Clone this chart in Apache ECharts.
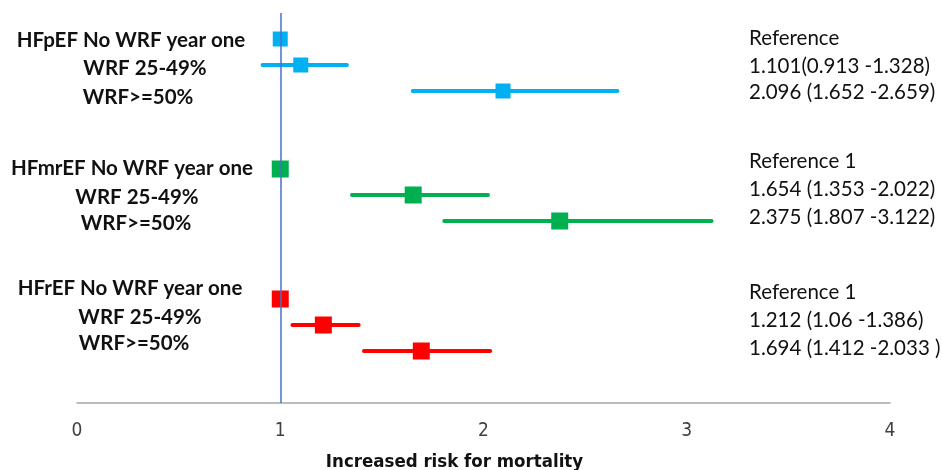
<!DOCTYPE html>
<html>
<head>
<meta charset="utf-8">
<script src="https://cdn.jsdelivr.net/npm/echarts@6/dist/echarts.min.js"></script>
<style>
  html, body { margin: 0; padding: 0; background: #fff; }
  #chart { width: 942px; height: 470px; }
</style>
</head>
<body>
<div id="chart"></div>
<script>
// Hazard ratios for mortality by WRF category, per heart-failure phenotype
const xTicks = [0, 1, 2, 3, 4];
const rowsHFpEF = [1, 2, 3];
const rowsHFmrEF = [6, 7, 8];
const rowsHFrEF = [11, 12, 13];

const hrHFpEF = [1, 1.101, 2.096];
const loHFpEF = [null, 0.913, 1.652];
const hiHFpEF = [null, 1.328, 2.659];

const hrHFmrEF = [1, 1.654, 2.375];
const loHFmrEF = [null, 1.353, 1.807];
const hiHFmrEF = [null, 2.022, 3.122];

const hrHFrEF = [1, 1.212, 1.694];
const loHFrEF = [null, 1.06, 1.412];
const hiHFrEF = [null, 1.386, 2.033];

const namesHFpEF = ['HFpEF No WRF year one', 'WRF 25-49%', 'WRF>=50%'];
const namesHFmrEF = ['HFmrEF No WRF year one', 'WRF 25-49%', 'WRF>=50%'];
const namesHFrEF = ['HFrEF No WRF year one', 'WRF 25-49%', 'WRF>=50%'];

const textHFpEF = ['Reference', '1.101(0.913 -1.328)', '2.096 (1.652 -2.659)'];
const textHFmrEF = ['Reference 1', '1.654 (1.353 -2.022)', '2.375 (1.807 -3.122)'];
const textHFrEF = ['Reference 1', '1.212 (1.06 -1.386)', '1.694 (1.412 -2.033 )'];

const groups = [
  { rows: rowsHFpEF, hr: hrHFpEF, lo: loHFpEF, hi: hiHFpEF, names: namesHFpEF, text: textHFpEF, color: '#00B0F0', size: 15,
    nameX: [131, 145, 138], nameY: [40, 68, 97], textY: [38, 66, 92] },
  { rows: rowsHFmrEF, hr: hrHFmrEF, lo: loHFmrEF, hi: hiHFmrEF, names: namesHFmrEF, text: textHFmrEF, color: '#00B050', size: 17,
    nameX: [132, 137, 136], nameY: [168, 197, 223], textY: [161, 189, 217] },
  { rows: rowsHFrEF, hr: hrHFrEF, lo: loHFrEF, hi: hiHFrEF, names: namesHFrEF, text: textHFrEF, color: '#FF0000', size: 17,
    nameX: [130, 140, 134], nameY: [288, 317, 343], textY: [292, 320, 348] }
];

const series = [];
const graphic = [];

groups.forEach(function (g) {
  // confidence-interval whiskers
  const ciData = [];
  g.rows.forEach(function (r, i) {
    if (g.lo[i] != null) ciData.push([g.lo[i], g.hi[i], r]);
  });
  series.push({
    type: 'custom',
    z: 2,
    renderItem: function (params, api) {
      const a = api.coord([api.value(0), api.value(2)]);
      const b = api.coord([api.value(1), api.value(2)]);
      return {
        type: 'line',
        shape: { x1: a[0], y1: a[1], x2: b[0], y2: b[1] },
        style: { stroke: g.color, lineWidth: 4, lineCap: 'round' }
      };
    },
    encode: { x: [0, 1], y: 2 },
    data: ciData
  });
  // point estimates
  series.push({
    type: 'scatter',
    z: 3,
    symbol: 'rect',
    symbolSize: g.size,
    itemStyle: { color: g.color, opacity: 1 },
    data: g.rows.map(function (r, i) { return [g.hr[i], r]; })
  });
  // row names on the left
  g.names.forEach(function (n, i) {
    graphic.push({
      type: 'text', x: g.nameX[i], y: g.nameY[i],
      style: { text: n, fill: '#111', font: 'bold 20.5px Lato, "Liberation Sans", sans-serif',
               align: 'center', verticalAlign: 'middle' }
    });
  });
  // estimates with 95% CI on the right
  g.text.forEach(function (t, i) {
    graphic.push({
      type: 'text', x: 749, y: g.textY[i],
      style: { text: t, fill: '#111', font: '20.5px Lato, "Liberation Sans", sans-serif',
               align: 'left', verticalAlign: 'middle' }
    });
  });
});

// line of no effect at HR = 1
series.push({
  type: 'line',
  z: 5,
  silent: true,
  symbol: 'none',
  data: [],
  markLine: {
    silent: true,
    symbol: 'none',
    label: { show: false },
    lineStyle: { color: '#4472C4', width: 1.5, type: 'solid' },
    data: [{ xAxis: 1 }]
  }
});

const chart = echarts.init(document.getElementById('chart'), null, { renderer: 'canvas' });
chart.setOption({
  animation: false,
  backgroundColor: '#ffffff',
  grid: { left: 77, right: 52, top: 13, bottom: 67, containLabel: false, outerBoundsMode: 'none' },
  xAxis: {
    type: 'value',
    min: xTicks[0],
    max: xTicks[xTicks.length - 1],
    interval: 1,
    name: 'Increased risk for mortality',
    nameLocation: 'middle',
    nameGap: 50,
    nameTextStyle: { color: '#111', fontSize: 18.5, fontWeight: 'bold', padding: [0, 58, 0, 0],
                     fontFamily: '"Liberation Sans Narrow", "DejaVu Sans Condensed", sans-serif' },
    axisLine: { show: true, onZero: false, lineStyle: { color: '#A6A6A6', width: 1.5 } },
    axisTick: { show: false },
    splitLine: { show: false },
    axisLabel: { color: '#404040', fontSize: 19, margin: 19,
                 fontFamily: '"Liberation Sans Narrow", "DejaVu Sans Condensed", sans-serif' }
  },
  yAxis: {
    type: 'value',
    inverse: true,
    min: 0,
    max: 15,
    show: false
  },
  graphic: graphic,
  series: series
});
</script>
</body>
</html>
